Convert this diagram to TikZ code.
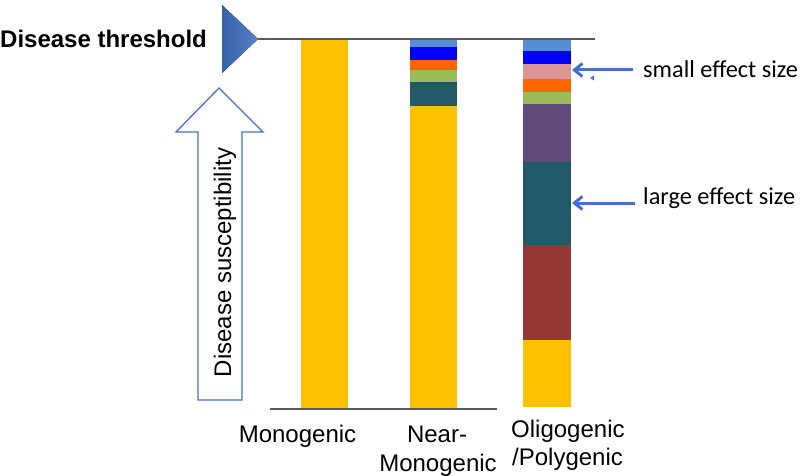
\documentclass[tikz,border=0pt]{standalone}
\usepackage{fontspec}
\setmainfont{Liberation Sans}
\newfontfamily\calfont{Carlito}
\usetikzlibrary{arrows.meta}
\definecolor{cyel}{HTML}{FFC000}
\definecolor{clblue}{HTML}{558ED5}
\definecolor{cblue}{HTML}{0000FF}
\definecolor{corange}{HTML}{FF6600}
\definecolor{cgreen}{HTML}{9BBB59}
\definecolor{cteal}{HTML}{215968}
\definecolor{cpink}{HTML}{D99694}
\definecolor{cpurple}{HTML}{604A7B}
\definecolor{cred}{HTML}{953735}
\definecolor{carrow}{HTML}{4472C4}
\definecolor{cline}{HTML}{595959}
\tikzset{
  lbl/.style={inner sep=0pt, font=\fontsize{24}{28}\selectfont},
  callbl/.style={inner sep=0pt, font=\calfont\fontsize{24.3}{28}\selectfont},
  axisline/.style={draw=cline, line width=2.8pt},
  effarrow/.style={draw=carrow, line width=3pt, -{Straight Barb[length=8pt,width=13pt]}},
}
\begin{document}
\begin{tikzpicture}[x=1pt,y=-1pt]
\useasboundingbox (0,0) rectangle (800,476);
% threshold triangle
\fill[left color=carrow!85!black, right color=carrow!90!white] (222,5) -- (258,39) -- (222,73) -- cycle;
\coordinate (thA) at (258,39);
\coordinate (thB) at (595,39);
\draw[axisline] (thA) -- (thB);
\node[lbl, font=\bfseries\fontsize{24}{28}\selectfont, anchor=base west] (thr) at (0,48) {Disease threshold};
% susceptibility arrow
\draw[carrow, line width=1.3pt, fill=white, line join=miter]
  (219,88) -- (263,132) -- (242,132) -- (242,400) -- (198,400) -- (198,132) -- (176,132) -- cycle;
\node[lbl, rotate=90, anchor=base] (sus) at (231,262.5) {Disease susceptibility};
% Monogenic bar
\fill[cyel] (301,40) rectangle (348,408);
% Near-monogenic bar
\fill[clblue] (410,40) rectangle (457,47);
\fill[cblue] (410,47) rectangle (457,60);
\fill[corange] (410,60) rectangle (457,70);
\fill[cgreen] (410,70) rectangle (457,82);
\fill[cteal] (410,82) rectangle (457,106);
\fill[cyel] (410,106) rectangle (457,408);
% Oligogenic bar
\fill[clblue] (523,40) rectangle (571,51);
\fill[cblue] (523,51) rectangle (571,64);
\fill[cpink] (523,64) rectangle (571,79);
\fill[corange] (523,79) rectangle (571,92);
\fill[cgreen] (523,92) rectangle (571,104);
\fill[cpurple] (523,104) rectangle (571,162);
\fill[cteal] (523,162) rectangle (571,245);
\fill[cred] (523,245) rectangle (571,340);
\fill[cyel] (523,340) rectangle (571,407);
% baseline
\coordinate (bA) at (270,409);
\coordinate (bB) at (497,409);
\draw[axisline] (bA) -- (bB);
% labels
\node[lbl, anchor=base] (mono) at (297.5,442) {Monogenic};
\node[lbl, anchor=base] (near1) at (437,442) {Near-};
\node[lbl, anchor=base] (near2) at (438,471) {Monogenic};
\node[lbl, anchor=base west] (oli1) at (511,437) {Oligogenic};
\node[lbl, anchor=base west] (oli2) at (512,465) {/Polygenic};
% effect arrows
\node[callbl, anchor=base west] (small) at (643,78) {small effect size};
\node[callbl, anchor=base west] (large) at (643,204) {large effect size};
\coordinate (sT) at (633,70);
\coordinate (sH) at (572,70);
\coordinate (lT) at (635,203);
\coordinate (lH) at (572,203);
\draw[effarrow] (sT) -- (sH);
\draw[effarrow] (lT) -- (lH);
\fill[carrow] (590,78) -- (594,75.5) -- (594,80.5) -- cycle;
\end{tikzpicture}
\end{document}
